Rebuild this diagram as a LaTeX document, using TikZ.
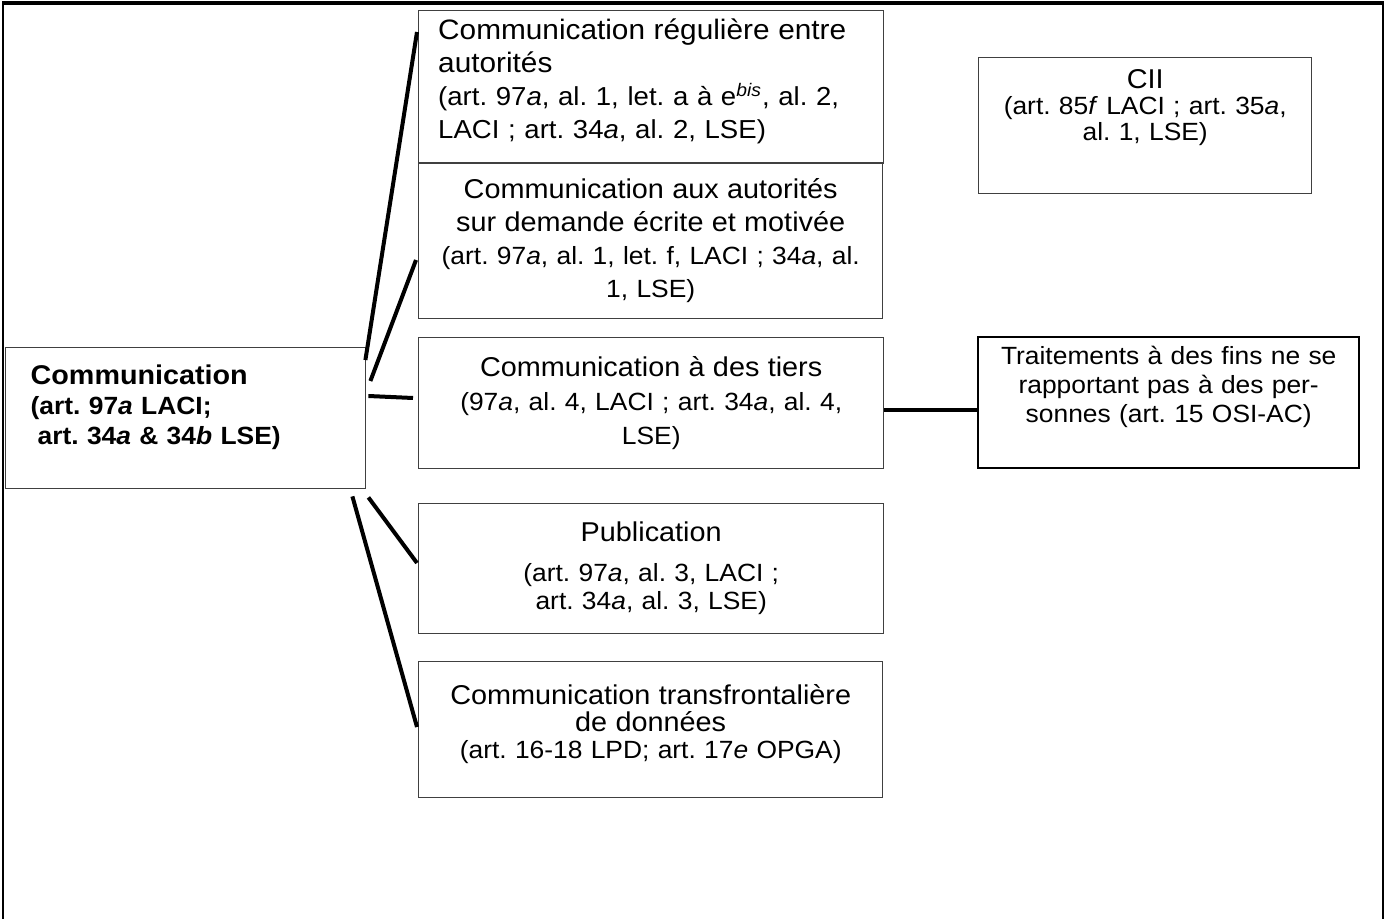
\documentclass[tikz,border=0pt]{standalone}
\usepackage{fontspec}
\setmainfont{Liberation Sans}[FakeStretch=1.06]
\usepackage{tikz}

\newcommand{\hd}[1]{{\fontsize{13.6}{\baselineskip}\selectfont #1}}
\newcommand{\liftby}[1]{\endgraf\kern#1}

\begin{document}
\frenchspacing
\begin{tikzpicture}[
    x=0.5pt, y=-0.5pt,
    box/.style={draw=black!75, line width=0.7pt, anchor=north west,
                align=center, inner xsep=4pt, inner ysep=4pt,
                font=\fontsize{12.45}{13.5}\selectfont},
    lift/.style={execute at end node={\liftby{#1}}},
    link/.style={line width=2pt, black},
    frame/.style={line width=0.75pt, black}
  ]
  \useasboundingbox (0,0) rectangle (1386,919);

  % outer frame (open at the bottom)
  \draw[frame] (3,919) -- (3,3);
  \draw[frame] (1383,3) -- (1383,919);
  \draw[line width=1.6pt] (2,3) -- (1384,3);

  \node[box, align=left, inner xsep=9.5pt, text width=213pt,
        minimum width=232.5pt, minimum height=76pt, lift=6pt,
        font=\fontsize{13}{16.5}\selectfont] (reg) at (418,10)
    {{\fontsize{14.05}{\baselineskip}\selectfont Communication régulière entre\\ autorités}\\
     (art. 97\textit{a}, al. 1, let. a à e\textsuperscript{\textit{bis}}, al. 2,\\
     LACI ; art. 34\textit{a}, al. 2, LSE)};

  \node[box, text width=224pt, minimum width=232pt, minimum height=78pt,
        font=\fontsize{12.45}{16.5}\selectfont] (aux) at (418,162)
    {\hd{Communication aux autorités}\\ \hd{sur demande écrite et motivée}\\
     (art. 97\textit{a}, al. 1, let. f, LACI ; 34\textit{a}, al.\\ 1, LSE)};

  \node[box, text width=224.5pt, minimum width=232.5pt, minimum height=65.5pt,
        font=\fontsize{12.45}{17}\selectfont] (tiers) at (418,337)
    {\hd{Communication à des tiers}\\
     (97\textit{a}, al. 4, LACI ; art. 34\textit{a}, al. 4,\\ LSE)};

  \node[box, text width=224.5pt, minimum width=232.5pt, minimum height=65pt,
        font=\fontsize{12.45}{14}\selectfont] (pub) at (418,503)
    {\hd{Publication}\\[6pt]
     (art. 97\textit{a}, al. 3, LACI ;\\ art. 34\textit{a}, al. 3, LSE)};

  \node[box, text width=224pt, minimum width=232pt, minimum height=68pt,
        lift=5.5pt] (trans) at (418,661)
    {\hd{Communication transfrontalière}\\ \hd{de données}\\
     (art. 16-18 LPD; art. 17\textit{e} OPGA)};

  \node[box, text width=158.5pt, minimum width=166.5pt, minimum height=68pt,
        lift=18pt, font=\fontsize{12.45}{13}\selectfont] (cii) at (978,57)
    {\hd{CII}\\ (art. 85\textit{f} LACI ; art. 35\textit{a},\\ al. 1, LSE)};

  \node[box, draw=black, line width=1.2pt, text width=182.5pt,
        minimum width=190.5pt, minimum height=65.5pt, lift=16pt,
        font=\fontsize{12.45}{14.5}\selectfont] (trait) at (977,336)
    {Traitements à des fins ne se\\ rapportant pas à des per-\\
     sonnes (art. 15 OSI-AC)};

  \node[box, align=left, inner xsep=12.5pt, text width=155pt,
        minimum width=180pt, minimum height=70.5pt, lift=11pt,
        font=\fontsize{12.45}{15}\selectfont\bfseries] (main) at (5,347)
    {{\fontsize{13.55}{\baselineskip}\selectfont Communication}\\
     (art. 97\textit{a} LACI;\\
     \hspace*{0.28em}art. 34\textit{a} \& 34\textit{b} LSE)};

  \draw[link] ([shift={(-1,13)}]main.north east) -- ([shift={(-1,22)}]reg.north west);
  \draw[link] ([shift={(4,34)}]main.north east) -- ([shift={(-2,98)}]aux.north west);
  \draw[link] ([shift={(2,49)}]main.north east) -- ([shift={(-5,61)}]tiers.north west);
  \draw[link] ([shift={(2,8)}]main.south east) -- ([shift={(-1,60)}]pub.north west);
  \draw[link] ([shift={(-14,7)}]main.south east) -- ([shift={(-1,66)}]trans.north west);

  \draw[link] ([yshift=-3.25pt]tiers.east) -- ([yshift=-3.25pt]tiers.east -| trait.west);
\end{tikzpicture}
\end{document}
